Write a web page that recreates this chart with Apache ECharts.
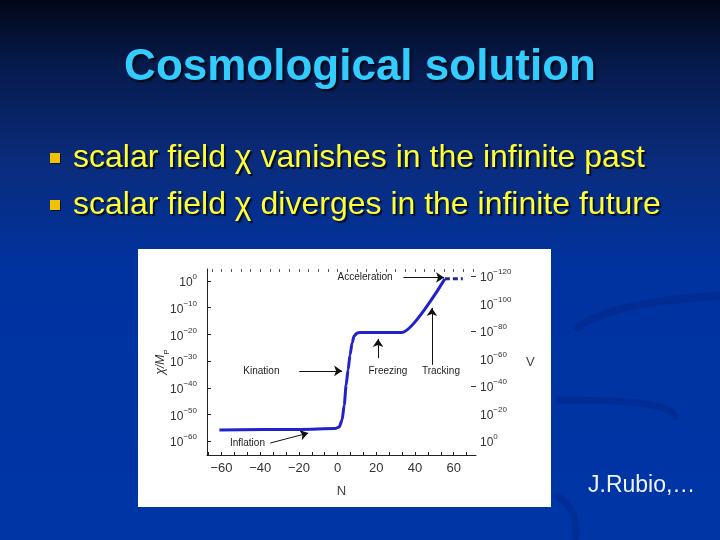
<!DOCTYPE html>
<html>
<head>
<meta charset="utf-8">
<script src="https://cdn.jsdelivr.net/npm/echarts@6/dist/echarts.min.js"></script>
<style>
  html, body { margin: 0; padding: 0; background: #0033a0; }
  #main { width: 720px; height: 540px; }
</style>
</head>
<body>
<div id="main"></div>
<script>
// chi/M_P curve, N on x, log10(chi/M_P) on y
var chiN   = [-61.1, -19.3, -1.3, 0.8, 2.3, 3.4, 4.4, 5.4, 6.4, 7.5, 8.5, 10.1, 11.6, 33.2, 55.4];
var chiLog = [-55.8, -55.6, -55.3, -54.7, -52.1, -46.5, -39.0, -33.3, -27.7, -23.2, -20.6, -19.5, -19.3, -19.3, 0.8];
// dashed acceleration part
var accelN   = [55.4, 64.7];
var accelLog = [0.8, 0.8];

// tick labels
var xTicks   = [-60, -40, -20, 0, 20, 40, 60];
var xMinor   = [-66.667, -60, -53.333, -46.667, -40, -33.333, -26.667, -20, -13.333, -6.667, 0, 6.667, 13.333, 20, 26.667, 33.333, 40, 46.667, 53.333, 60, 66.667];
var topTicks = [-65, -60, -55, -50, -45, -40, -35, -30, -25, -20, -15, -10, -5, 0, 5, 10, 15, 20, 25, 30, 35, 40, 45, 50, 55, 60, 65, 70];
var chiTicks = [0, -10, -20, -30, -40, -50, -60];
var vTicks   = [-120, -100, -80, -60, -40, -20, 0];
var vTickMarks = [-120, -80, -40];

// annotations
var noteText = ['Acceleration', 'Kination', 'Freezing', 'Tracking', 'Inflation'];
var noteN    = [14.2, -39.4, 26, 53.4, -46.6];
var noteLog  = [1.5, -33.7, -33.7, -33.7, -60.7];
var arrowFromN   = [34, -19.8, 20.9, 48.7, -34.8];
var arrowFromLog = [1.3, -33.7, -28.9, -31.4, -60.7];
var arrowToN     = [55, 2.3, 20.9, 48.7, -15.2];
var arrowToLog   = [1.3, -33.7, -21.7, -10.1, -57.0];

var chart = echarts.init(document.getElementById('main'));

function pow10(v) {
  var e = Math.round(v);
  return '{b|10}{s|' + (e < 0 ? '\u2212' + (-e) : e) + '}';
}
var powRich = {
  b: { fontSize: 12, color: '#333', lineHeight: 16, verticalAlign: 'bottom', fontFamily: 'Liberation Sans' },
  s: { fontSize: 8, color: '#333', lineHeight: 16, verticalAlign: 'top', fontFamily: 'Liberation Sans' }
};

var lineData = chiN.map(function (n, i) { return [n, chiLog[i]]; });
var accelData = accelN.map(function (n, i) { return [n, accelLog[i]]; });

var notes = noteText.map(function (t, i) {
  return { name: t, coord: [noteN[i], noteLog[i]] };
});
var arrows = arrowFromN.map(function (n, i) {
  return [{ coord: [n, arrowFromLog[i]] }, { coord: [arrowToN[i], arrowToLog[i]] }];
});

var swoosh = 'rgba(0,25,100,0.22)';

chart.setOption({
  animation: false,
  backgroundColor: new echarts.graphic.LinearGradient(0, 0, 0, 1, [
    { offset: 0, color: '#020716' },
    { offset: 0.12, color: '#061a4c' },
    { offset: 0.3, color: '#0a2c7c' },
    { offset: 0.5, color: '#0033a0' },
    { offset: 1, color: '#0035a6' }
  ]),
  graphic: [
    // swooshes
    { type: 'bezierCurve', z: -20, shape: { x1: 575, y1: 330, x2: 720, y2: 296, cpx1: 600, cpy1: 305, cpx2: 680, cpy2: 298 },
      style: { stroke: swoosh, lineWidth: 8, fill: null } },
    { type: 'bezierCurve', z: -20, shape: { x1: 556, y1: 400, x2: 675, y2: 420, cpx1: 600, cpy1: 400, cpx2: 680, cpy2: 400 },
      style: { stroke: swoosh, lineWidth: 7, fill: null } },
    { type: 'bezierCurve', z: -20, shape: { x1: 555, y1: 495, x2: 575, y2: 540, cpx1: 575, cpy1: 505, cpx2: 578, cpy2: 525 },
      style: { stroke: swoosh, lineWidth: 7, fill: null } },
    // figure background
    { type: 'rect', z: -10, shape: { x: 138, y: 249, width: 413, height: 258 }, style: { fill: '#ffffff' } },
    // title
    { type: 'text', z: 10, x: 360, y: 68, style: {
        text: 'Cosmological solution', fill: '#33ccff', font: 'bold 44px "Liberation Sans", Arial, sans-serif',
        align: 'center', verticalAlign: 'middle', textAlign: 'center', textVerticalAlign: 'middle',
        textShadowColor: 'rgba(0,0,0,0.8)', textShadowOffsetX: 2, textShadowOffsetY: 2, textShadowBlur: 2 } },
    // bullets
    { type: 'rect', z: 10, shape: { x: 50, y: 153, width: 10, height: 10 }, style: { fill: '#f2c200', shadowColor: 'rgba(0,0,0,0.6)', shadowOffsetX: 1, shadowOffsetY: 1 } },
    { type: 'rect', z: 10, shape: { x: 50, y: 200, width: 10, height: 10 }, style: { fill: '#f2c200', shadowColor: 'rgba(0,0,0,0.6)', shadowOffsetX: 1, shadowOffsetY: 1 } },
    { type: 'text', z: 10, x: 73, y: 158, style: {
        text: 'scalar field \u03c7 vanishes in the infinite past', fill: '#ffff33', font: '32px "Liberation Sans", Arial, sans-serif',
        align: 'left', verticalAlign: 'middle', textAlign: 'left', textVerticalAlign: 'middle',
        textShadowColor: 'rgba(0,0,0,0.7)', textShadowOffsetX: 2, textShadowOffsetY: 2, textShadowBlur: 1 } },
    { type: 'text', z: 10, x: 73, y: 205, style: {
        text: 'scalar field \u03c7 diverges in the infinite future', fill: '#ffff33', font: '32px "Liberation Sans", Arial, sans-serif',
        align: 'left', verticalAlign: 'middle', textAlign: 'left', textVerticalAlign: 'middle',
        textShadowColor: 'rgba(0,0,0,0.7)', textShadowOffsetX: 2, textShadowOffsetY: 2, textShadowBlur: 1 } },
    // credit
    { type: 'text', z: 10, x: 588, y: 486, style: {
        text: 'J.Rubio,\u2026', fill: '#eef3ff', font: '23px "Liberation Sans", Arial, sans-serif',
        align: 'left', verticalAlign: 'middle', textAlign: 'left', textVerticalAlign: 'middle' } }
  ],
  grid: { left: 207, top: 269, width: 269, height: 186 },
  xAxis: [{
    type: 'value', position: 'bottom', min: -67.5, max: 71.5,
    name: 'N', nameLocation: 'middle', nameGap: 30, nameMoveOverlap: false,
    nameTextStyle: { color: '#444', fontSize: 13, fontFamily: 'Liberation Sans' },
    axisLine: { show: true, onZero: false, lineStyle: { color: '#222', width: 1 } },
    axisTick: { show: true, inside: true, length: 3, customValues: xMinor, lineStyle: { color: '#222' } },
    axisLabel: { customValues: xTicks, margin: 7, color: '#333', fontSize: 13, fontFamily: 'Liberation Sans',
      formatter: function (v) { return v < 0 ? '\u2212' + (-v) : '' + v; } },
    splitLine: { show: false }
  }, {
    type: 'value', position: 'top', min: -67.5, max: 71.5,
    axisLine: { show: false, onZero: false },
    axisTick: { show: true, inside: true, length: 3, customValues: topTicks, lineStyle: { color: '#555' } },
    axisLabel: { show: false },
    splitLine: { show: false }
  }],
  yAxis: [{
    type: 'value', position: 'left', min: -65.2, max: 4.5,
    name: '{i|\u03c7/M}{p|P}', nameLocation: 'middle', nameGap: 36, nameRotate: 90, nameMoveOverlap: false,
    nameTextStyle: { rich: {
      i: { fontSize: 12, fontStyle: 'italic', color: '#333', fontFamily: 'Liberation Sans', lineHeight: 16, verticalAlign: 'top' },
      p: { fontSize: 8, color: '#333', fontFamily: 'Liberation Sans', lineHeight: 16, verticalAlign: 'bottom' } } },
    axisLine: { show: true, onZero: false, lineStyle: { color: '#222', width: 1 } },
    axisTick: { show: true, inside: true, length: 4, customValues: chiTicks, lineStyle: { color: '#222' } },
    axisLabel: { customValues: chiTicks, margin: 10, formatter: pow10, rich: powRich },
    splitLine: { show: false }
  }, {
    type: 'value', position: 'right', min: -125, max: 10.2, inverse: true,
    name: 'V', nameLocation: 'middle', nameGap: 50, nameRotate: 0, nameMoveOverlap: false,
    nameTextStyle: { color: '#444', fontSize: 13, fontFamily: 'Liberation Sans' },
    axisLine: { show: false, onZero: false },
    axisTick: { show: true, inside: true, length: 5, customValues: vTickMarks, lineStyle: { color: '#333' } },
    axisLabel: { customValues: vTicks, margin: 4, formatter: pow10, rich: powRich },
    splitLine: { show: false }
  }],
  series: [{
    type: 'line', xAxisIndex: 0, yAxisIndex: 0, data: lineData,
    smooth: 0.25, smoothMonotone: 'x', symbol: 'none', z: 5,
    lineStyle: { color: '#2222cc', width: 3 },
    markPoint: {
      symbol: 'circle', symbolSize: 0, silent: true,
      label: { show: true, position: 'inside', formatter: '{b}', color: '#222', fontSize: 10, fontFamily: 'Liberation Sans' },
      data: notes
    },
    markLine: {
      silent: true, symbol: ['none', 'arrow'], symbolSize: 8,
      label: { show: false },
      lineStyle: { color: '#111', width: 1, type: 'solid' },
      emphasis: { disabled: true },
      data: arrows
    }
  }, {
    type: 'line', xAxisIndex: 0, yAxisIndex: 0, data: accelData,
    symbol: 'none', z: 5,
    lineStyle: { color: '#1c2896', width: 3, type: [5, 3] }
  }]
});
</script>
</body>
</html>
